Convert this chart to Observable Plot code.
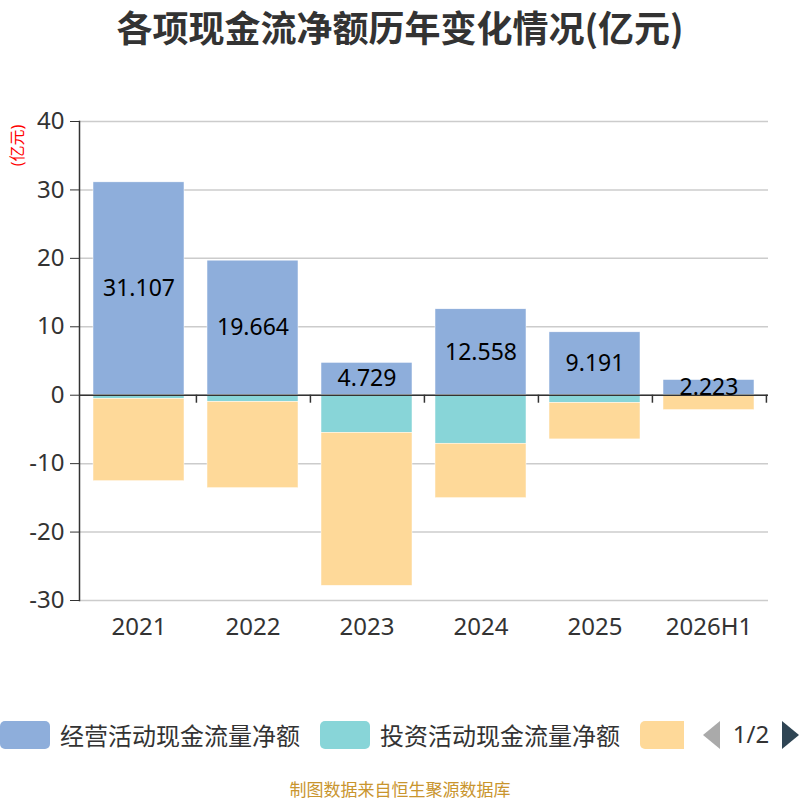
<!DOCTYPE html>
<html>
<head>
<meta charset="utf-8">
<script src="https://cdn.jsdelivr.net/npm/d3@7"></script>
<script src="https://cdn.jsdelivr.net/npm/@observablehq/plot@0.6"></script>
<style>
  body { margin: 0; background: #fff; font-family: "Noto Sans", "Noto Sans CJK SC", sans-serif; }
  #wrap { width: 800px; height: 800px; position: relative; overflow: hidden; }
  #title { height: 60px; line-height: 52px; text-align: center; font-size: 36px; font-weight: bold; color: #333; font-family: "Noto Sans CJK SC", sans-serif; white-space: nowrap; }
  #legend { position: relative; width: 800px; height: 28px; margin-top: 61px; font-family: "Noto Sans CJK SC", sans-serif; }
  #legclip { position: absolute; left: 0; top: -8px; width: 684px; height: 44px; overflow: hidden; }
  .box { position: absolute; top: 8px; width: 50px; height: 28px; border-radius: 5px; }
  .lab { position: absolute; top: 4px; height: 36px; line-height: 36px; font-size: 24px; color: #333; white-space: nowrap; }
  #caption { margin-top: 30px; text-align: center; font-size: 17px; color: #c9952e; line-height: 20px; font-family: "Noto Sans CJK SC", sans-serif; }
</style>
</head>
<body>
<div id="wrap">
  <div id="title">各项现金流净额历年变化情况(亿元)</div>
  <div id="chart"></div>
  <div id="legend"></div>
  <div id="caption">制图数据来自恒生聚源数据库</div>
</div>
<script>
const years = ["2021", "2022", "2023", "2024", "2025", "2026H1"];
const seriesNames = ["经营活动现金流量净额", "投资活动现金流量净额", "筹资活动现金流量净额"];
const seriesColors = ["#8eaedb", "#88d5d8", "#fed999"];
const operating = [31.107, 19.664, 4.729, 12.558, 9.191, 2.223];
const investing = [-0.53, -0.97, -5.49, -7.09, -1.12, -0.12];
const financing = [-12.04, -12.62, -22.37, -7.96, -5.34, -2.06];
const yTicks = [-30, -20, -10, 0, 10, 20, 30, 40];
const unitLabel = "(亿元)";
const legendVisible = 2; // labels shown on page 1/2 of the legend

const seriesValues = [operating, investing, financing];
const data = [];
years.forEach((yr, i) => {
  seriesNames.forEach((s, k) => data.push({year: yr, series: s, value: seriesValues[k][i]}));
});
const opData = years.map((yr, i) => ({year: yr, value: operating[i]}));

const W = 800, H = 600, ML = 79, MR = 32, MT = 61, MB = 60;
const step = (W - ML - MR) / years.length;

const chart = Plot.plot({
  width: W, height: H,
  marginLeft: ML, marginRight: MR, marginTop: MT, marginBottom: MB,
  style: {fontFamily: '"Noto Sans", "Noto Sans CJK SC", sans-serif', background: "#fff", overflow: "visible"},
  x: {domain: years, paddingInner: 0.2, paddingOuter: 0.1, label: null},
  y: {domain: [-30, 40], label: null},
  color: {domain: seriesNames, range: seriesColors},
  marks: [
    Plot.gridY(yTicks, {stroke: "#ccc", strokeOpacity: 1, strokeWidth: 1.5}),
    Plot.barY(data, {x: "year", y: "value", fill: "series", stroke: "#fff", strokeWidth: 0.5}),
    Plot.ruleY([0], {stroke: "#333", strokeWidth: 1.5}),
    Plot.ruleX(years, {x: d => d, y1: () => 0, y2: () => 0, insetBottom: -8, dx: step / 2, stroke: "#333", strokeWidth: 1.5}),
    Plot.frame({anchor: "left", stroke: "#333", strokeWidth: 1.5}),
    Plot.axisY({ticks: yTicks, tickFormat: d => String(d), tickSize: 9, tickPadding: 6, fontSize: 24, color: "#333", stroke: "#333", label: null}),
    Plot.axisX({tickSize: 0, tickPadding: 17, fontSize: 24, color: "#333", label: null}),
    Plot.text(opData, {x: "year", y: d => d.value / 2, text: d => d.value.toFixed(3), fontSize: 23, fill: "#000"}),
    Plot.text([unitLabel], {frameAnchor: "top-left", textAnchor: "middle", lineAnchor: "middle", dx: -62, dy: 24, rotate: -90, fill: "red", fontSize: 16})
  ]
});
document.getElementById("chart").appendChild(chart);

// legend
const legend = document.getElementById("legend");
const clip = document.createElement("div");
clip.id = "legclip";
legend.appendChild(clip);
const boxX = [0, 320, 640];
seriesNames.forEach((s, k) => {
  const b = document.createElement("div");
  b.className = "box";
  b.style.left = boxX[k] + "px";
  b.style.background = seriesColors[k];
  clip.appendChild(b);
  if (k < legendVisible) {
    const t = document.createElement("div");
    t.className = "lab";
    t.style.left = (boxX[k] + 60) + "px";
    t.textContent = s;
    clip.appendChild(t);
  }
});
const pager = document.createElementNS("http://www.w3.org/2000/svg", "svg");
pager.setAttribute("width", "100");
pager.setAttribute("height", "40");
pager.style.position = "absolute";
pager.style.left = "700px";
pager.style.top = "-6px";
pager.innerHTML = '<path d="M3,20 L20,6 L20,34 Z" fill="#aaa"/>' +
  '<text x="51" y="28" text-anchor="middle" font-size="24" fill="#333" font-family="Noto Sans, sans-serif">1/2</text>' +
  '<path d="M82,6 L99,20 L82,34 Z" fill="#2f4554"/>';
legend.appendChild(pager);
</script>
</body>
</html>
